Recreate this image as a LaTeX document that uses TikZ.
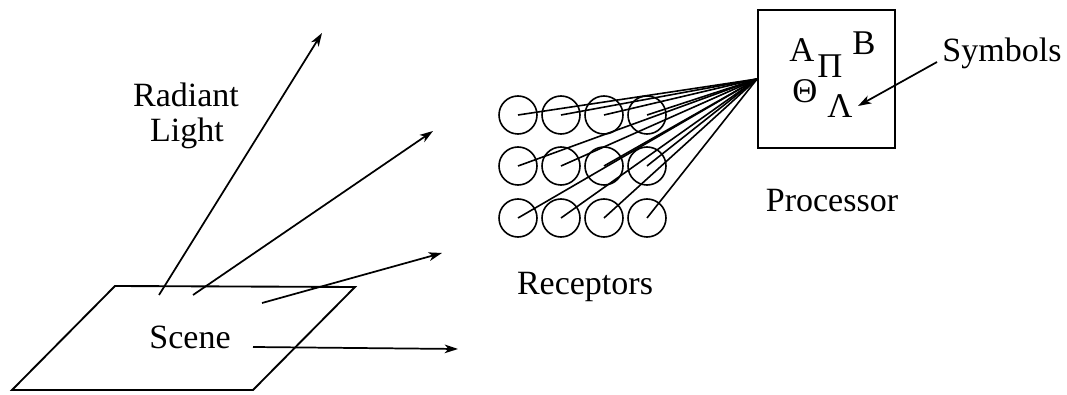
\documentclass[tikz,border=0pt]{standalone}
\usepackage{fontspec}
\setmainfont{Liberation Serif}
\usetikzlibrary{arrows.meta}
\begin{document}
\begin{tikzpicture}[x=0.75pt,y=-0.75pt,
  lbl/.style={font=\fontsize{25.5}{30}\selectfont, inner sep=0pt, anchor=base},
  sym/.style={font=\fontsize{26}{30}\selectfont, inner sep=0pt, anchor=base},
  ray/.style={line width=1.3pt, -{Stealth[length=10pt,width=6.5pt,inset=2.8pt]}},
  wire/.style={line width=1.2pt},
  receptor/.style={circle, draw, line width=1.2pt, minimum size=28.5pt, inner sep=0pt},
  procbox/.style={draw, line width=1.4pt, minimum width=102.75pt, minimum height=103.5pt, inner sep=0pt}]
\useasboundingbox (0,0) rectangle (1067,395);

% scene plane
\draw[line width=1.4pt, line join=miter] (12,390) -- (253,390) -- (355,287) -- (115,286) -- cycle;
\node[lbl] (scene) at (190,348) {Scene};

% radiant light
\node[lbl] (radiant) at (186,107) {Radiant};
\node[lbl] (light) at (187,142) {Light};
\coordinate (s1) at (159,295); \coordinate (e1) at (322,33);
\coordinate (s2) at (193,295); \coordinate (e2) at (433,131);
\coordinate (s3) at (262,303); \coordinate (e3) at (442,253);
\coordinate (s4) at (253,347); \coordinate (e4) at (458,349);
\draw[ray] (s1) -- (e1);
\draw[ray] (s2) -- (e2);
\draw[ray] (s3) -- (e3);
\draw[ray] (s4) -- (e4);

% processor
\node[procbox] (proc) at (826.5,79) {};
\node[lbl] (proclbl) at (832,212) {Processor};
\node[sym] (gA) at (802,62) {A};
\node[sym] (gPi) at (830,78) {Π};
\node[sym] (gB) at (864,55) {B};
\node[sym] (gTh) at (805,103) {Θ};
\node[sym] (gLa) at (840,118) {Λ};

% symbols label
\node[lbl] (symlbl) at (1002,62) {Symbols};
\coordinate (symstart) at (937,62);
\coordinate (symend) at (858,106);
\draw[ray] (symstart) -- (symend);

% receptors
\foreach \r/\y in {1/115,2/166,3/218}{
  \foreach \c/\x in {1/518,2/561,3/604,4/647}{
    \node[receptor] (r\r\c) at (\x,\y) {};
  }
}
\node[lbl] (reclbl) at (585,295) {Receptors};
\foreach \r in {1,2,3}{
  \foreach \c in {1,2,3,4}{
    \draw[wire] (r\r\c.center) -- (proc.west);
  }
}
\end{tikzpicture}
\end{document}
